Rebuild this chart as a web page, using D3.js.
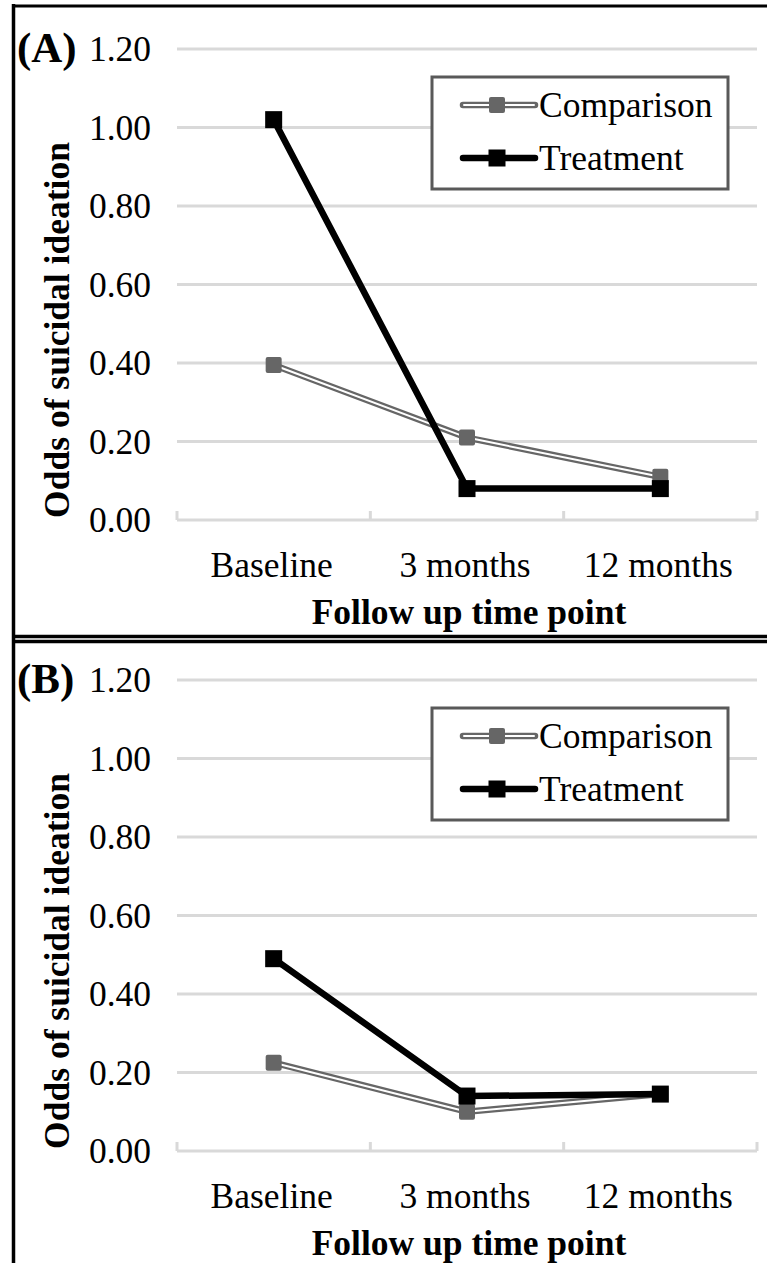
<!DOCTYPE html>
<html>
<head>
<meta charset="utf-8">
<script src="https://cdn.jsdelivr.net/npm/d3@7"></script>
<style>
  html, body { margin: 0; padding: 0; background: #fff; }
  svg { display: block; }
</style>
</head>
<body>
<svg id="chart" width="767" height="1263"></svg>
<script>
// ---- data ----
const categories = ["Baseline", "3 months", "12 months"];
const yTicks = [0, 0.2, 0.4, 0.6, 0.8, 1.0, 1.2];
const seriesNames = ["Comparison", "Treatment"];
const panelLabels = ["(A)", "(B)"];
const comparisonA = [0.395, 0.21, 0.11];
const treatmentA  = [1.02, 0.08, 0.08];
const comparisonB = [0.225, 0.10, 0.145];
const treatmentB  = [0.49, 0.14, 0.145];
const yTitle = "Odds of suicidal ideation";
const xTitle = "Follow up time point";

const panels = [
  { label: panelLabels[0], comp: comparisonA, treat: treatmentA, oy: 0 },
  { label: panelLabels[1], comp: comparisonB, treat: treatmentB, oy: 631 }
];

const FONT = "'Liberation Serif', 'Times New Roman', Times, serif";
const svg = d3.select("#chart").attr("font-family", FONT);
const FS = 35.5;

const x = d3.scaleBand().domain(categories).range([177, 757]).padding(0);

panels.forEach(p => {
  const g = svg.append("g");
  const y = d3.scaleLinear().domain([0, 1.2]).range([p.oy + 520, p.oy + 49]);

  // gridlines
  g.selectAll("line.grid").data(yTicks.filter(d => d > 0)).join("line")
    .attr("x1", 177).attr("x2", 757)
    .attr("y1", d => y(d)).attr("y2", d => y(d))
    .attr("stroke", "#d9d9d9").attr("stroke-width", 3);

  // x axis line with tick marks
  const xAxis = d3.axisBottom(x).tickSize(0).tickFormat("");
  const ax = g.append("g").attr("transform", `translate(0,${y(0)})`).call(xAxis);
  ax.select(".domain").remove();
  ax.append("line").attr("x1", 177).attr("x2", 757).attr("y1", 0).attr("y2", 0)
    .attr("stroke", "#d9d9d9").attr("stroke-width", 3);
  const bounds = categories.map(c => x(c)).concat([x.range()[1]]);
  ax.selectAll("line.tk").data(bounds).join("line").attr("class", "tk")
    .attr("x1", d => d).attr("x2", d => d).attr("y1", 0).attr("y2", -9)
    .attr("stroke", "#d9d9d9").attr("stroke-width", 3);

  const T = (sel) => sel.attr("font-family", FONT).attr("fill", "#000");

  // y tick labels
  g.selectAll("text.yt").data(yTicks).join("text").attr("class", "yt")
    .call(T)
    .attr("x", 151).attr("y", d => y(d)).attr("dy", "0.34em")
    .attr("text-anchor", "end").attr("font-size", FS)
    .text(d => d.toFixed(2));

  // category labels
  g.selectAll("text.xc").data(categories).join("text").attr("class", "xc")
    .call(T)
    .attr("x", d => x(d) + x.bandwidth() / 2 - 2).attr("y", p.oy + 577)
    .attr("text-anchor", "middle").attr("font-size", FS)
    .text(d => d);

  // x title
  g.append("text").call(T).attr("x", 469).attr("y", p.oy + 624)
    .attr("text-anchor", "middle").attr("font-size", FS).attr("font-weight", "bold")
    .text(xTitle);

  // y title
  g.append("text").call(T).attr("transform", `translate(69,${p.oy + 330}) rotate(-90)`)
    .attr("text-anchor", "middle").attr("font-size", FS).attr("font-weight", "bold")
    .text(yTitle);

  // panel label
  g.append("text").call(T).attr("x", 17).attr("y", p.oy + 62)
    .attr("font-size", 43).attr("font-weight", "bold").text(p.label);

  const line = d3.line().x((d, i) => x(categories[i]) + x.bandwidth() / 2).y(d => y(d));

  // comparison: double line
  g.append("path").attr("d", line(p.comp)).attr("fill", "none")
    .attr("stroke", "#666").attr("stroke-width", 6.5);
  g.append("path").attr("d", line(p.comp)).attr("fill", "none")
    .attr("stroke", "#fff").attr("stroke-width", 2);
  g.selectAll("rect.cm").data(p.comp).join("rect").attr("class", "cm")
    .attr("x", (d, i) => x(categories[i]) + x.bandwidth() / 2 - 8)
    .attr("y", d => y(d) - 8).attr("width", 16).attr("height", 16)
    .attr("rx", 2).attr("fill", "#666");

  // treatment
  g.append("path").attr("d", line(p.treat)).attr("fill", "none")
    .attr("stroke", "#000").attr("stroke-width", 6.5);
  g.selectAll("rect.tm").data(p.treat).join("rect").attr("class", "tm")
    .attr("x", (d, i) => x(categories[i]) + x.bandwidth() / 2 - 8.5)
    .attr("y", d => y(d) - 8.5).attr("width", 17).attr("height", 17)
    .attr("fill", "#000");

  // legend
  const lg = g.append("g");
  lg.append("rect").attr("x", 432).attr("y", p.oy + 77).attr("width", 296).attr("height", 112)
    .attr("fill", "#fff").attr("stroke", "#595959").attr("stroke-width", 3);
  const ly = [p.oy + 105, p.oy + 158];
  lg.append("line").attr("x1", 463).attr("x2", 535).attr("y1", ly[0]).attr("y2", ly[0])
    .attr("stroke", "#666").attr("stroke-width", 6.5).attr("stroke-linecap", "round");
  lg.append("line").attr("x1", 464).attr("x2", 534).attr("y1", ly[0]).attr("y2", ly[0])
    .attr("stroke", "#fff").attr("stroke-width", 2).attr("stroke-linecap", "round");
  lg.append("rect").attr("x", 497 - 8).attr("y", ly[0] - 8).attr("width", 16).attr("height", 16)
    .attr("rx", 2).attr("fill", "#666");
  lg.append("line").attr("x1", 463).attr("x2", 535).attr("y1", ly[1]).attr("y2", ly[1])
    .attr("stroke", "#000").attr("stroke-width", 6.5).attr("stroke-linecap", "round");
  lg.append("rect").attr("x", 497 - 8.5).attr("y", ly[1] - 8.5).attr("width", 17).attr("height", 17)
    .attr("fill", "#000");
  lg.selectAll("text.lt").data(seriesNames).join("text").attr("class", "lt")
    .call(T)
    .attr("x", 539).attr("y", (d, i) => ly[i]).attr("dy", "0.34em")
    .attr("font-size", FS).text(d => d);
});

// frame lines
svg.append("line").attr("x1", 13.5).attr("x2", 13.5).attr("y1", 4).attr("y2", 1263)
  .attr("stroke", "#000").attr("stroke-width", 3.5);
svg.append("line").attr("x1", 12).attr("x2", 767).attr("y1", 6).attr("y2", 6)
  .attr("stroke", "#000").attr("stroke-width", 3);
svg.append("line").attr("x1", 12).attr("x2", 767).attr("y1", 636.5).attr("y2", 636.5)
  .attr("stroke", "#000").attr("stroke-width", 3.5);
svg.append("line").attr("x1", 12).attr("x2", 767).attr("y1", 641.5).attr("y2", 641.5)
  .attr("stroke", "#000").attr("stroke-width", 3.5);
</script>
</body>
</html>
